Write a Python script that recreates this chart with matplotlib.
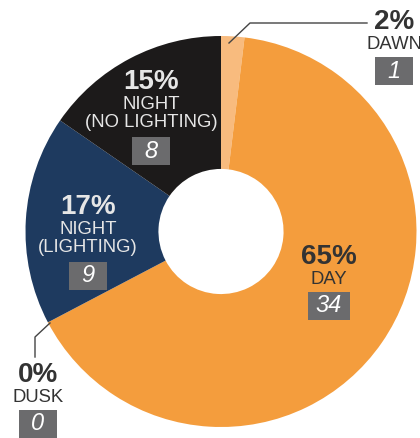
import matplotlib.pyplot as plt
from matplotlib.patches import Rectangle

# Crash counts by light condition (clockwise from 12 o'clock)
conditions = ['DAWN', 'DAY', 'DUSK', 'NIGHT\n(LIGHTING)', 'NIGHT\n(NO LIGHTING)']
counts = [1, 34, 0, 9, 8]
percents = ['2%', '65%', '0%', '17%', '15%']
colors = ['#F8BB7E', '#F49D3D', '#F49D3D', '#1E3A5F', '#1C1A1A']

W, H = 420, 438
fig = plt.figure(figsize=(4.2, 4.38), dpi=100)
ax = fig.add_axes([0, 0, 1, 1])

cx, cy, r = 221, H - 231.5, 195.5
ax.pie(counts, colors=colors, startangle=90, counterclock=False,
       center=(cx, cy), radius=r, frame=True,
       wedgeprops=dict(width=r * 0.68, linewidth=0))
ax.set_xlim(0, W)
ax.set_ylim(0, H)
ax.axis('off')

font = 'Liberation Sans'
dark = '#333333'
light = '#E6E6E6'

# label layout: x, y of the percent (pixels from top), text colour
layout = {
    'DAWN': (394, 22, dark),
    'DAY': (329, 257, dark),
    'DUSK': (38, 375, dark),
    'NIGHT\n(LIGHTING)': (88, 207, light),
    'NIGHT\n(NO LIGHTING)': (151, 82, light),
}

for name, n, pct in zip(conditions, counts, percents):
    x, y, col = layout[name]
    ax.text(x, H - y, pct, ha='center', va='center', fontsize=20,
            fontweight='bold', color=col, family=font)
    nlines = name.count('\n') + 1
    ax.text(x, H - y - 14, name, ha='center', va='top', fontsize=13.3,
            color=col, family=font, linespacing=1.05)
    by = y + 14 + 20 * nlines + 15
    bw = 38 if n < 10 else 42
    ax.add_patch(Rectangle((x - bw / 2, H - by - 14), bw, 28,
                           facecolor='#6B6B6D', edgecolor='none'))
    ax.text(x, H - by, str(n), ha='center', va='center', fontsize=17,
            style='italic', color='white', family=font)

# leader lines
ax.plot([229, 250, 367], [H - 43, H - 23, H - 23], color='#444444', lw=1)
ax.plot([50, 35, 35], [H - 323, H - 337, H - 357], color='#444444', lw=1)

fig.savefig('out.png', dpi=100)
